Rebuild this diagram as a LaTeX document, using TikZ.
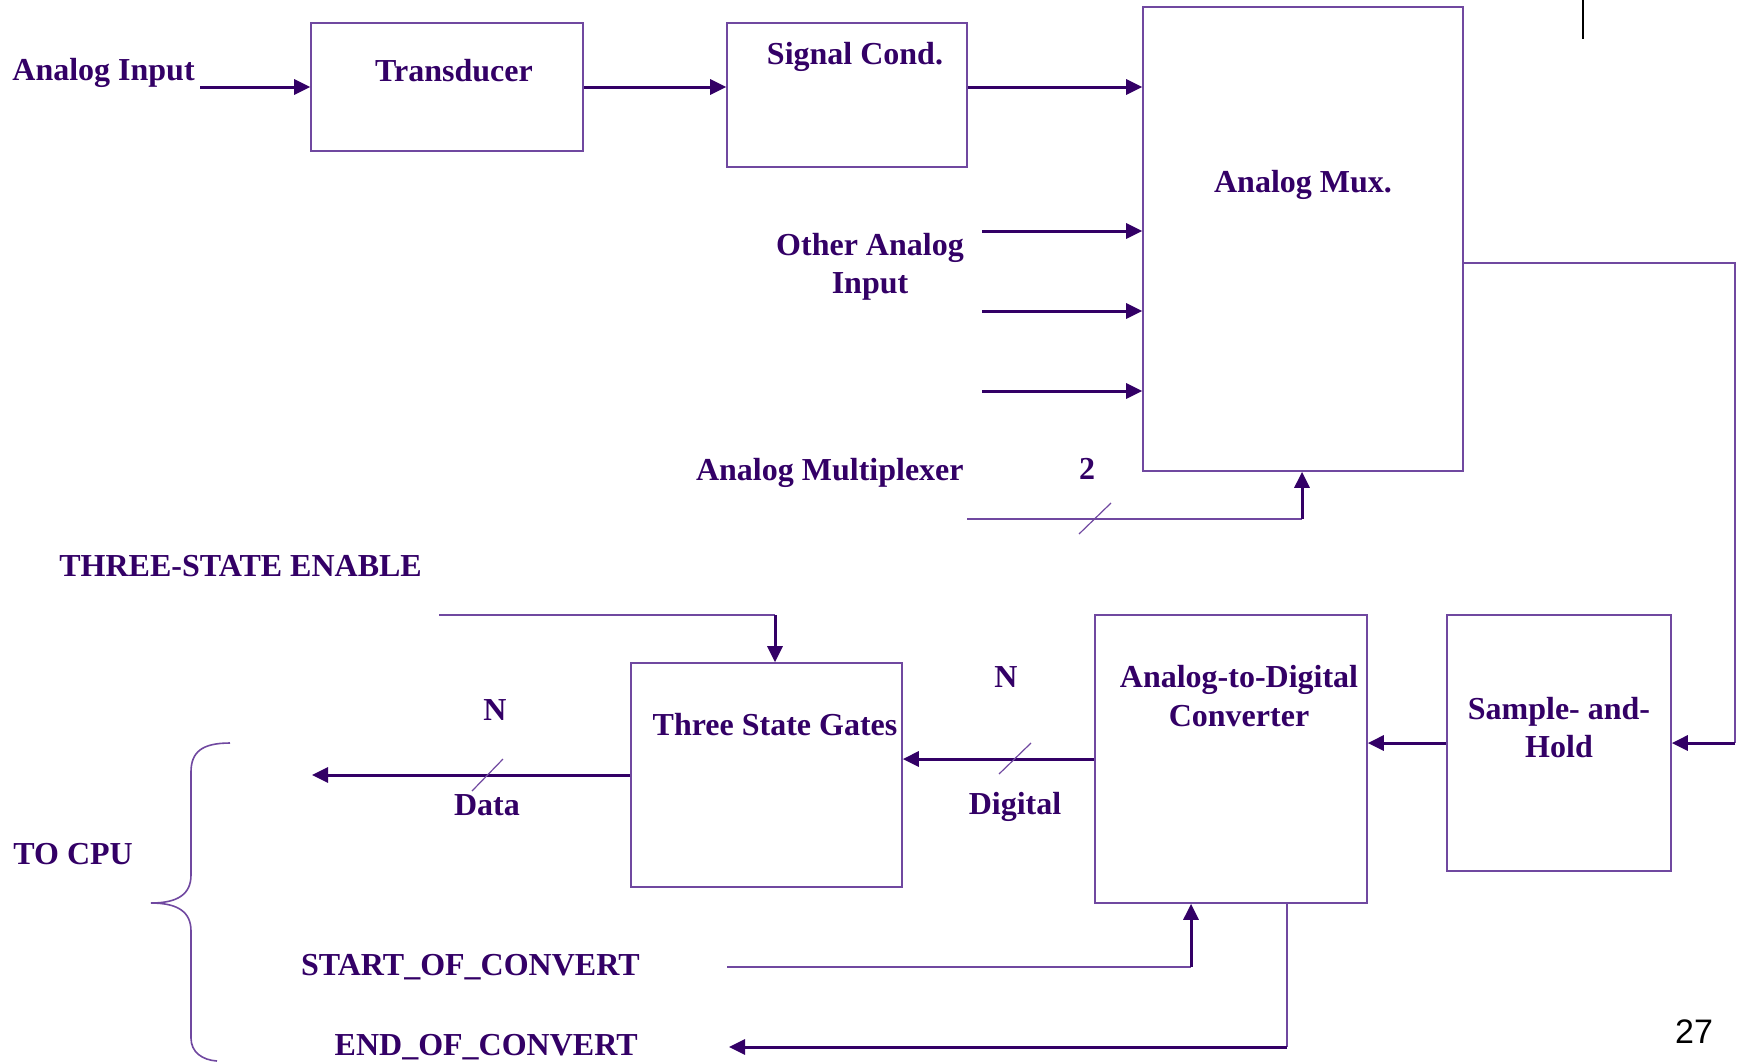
\documentclass[tikz,border=0pt]{standalone}
\usepackage{fontspec}
\setmainfont{Liberation Serif}
\newfontfamily\pgfont{Liberation Sans}
\usetikzlibrary{arrows.meta,fit}
\definecolor{dk}{RGB}{51,0,102}
\definecolor{lt}{RGB}{112,72,160}
\begin{document}
\begin{tikzpicture}[x=0.5pt,y=-0.5pt,
 box/.style={draw=lt, line width=0.8pt, inner sep=0pt},
 lbl/.style={text=dk, font=\fontsize{16}{18}\selectfont\bfseries, inner sep=0pt, anchor=base},
 thk/.style={draw=dk, line width=1.5pt, -{Triangle[length=8pt,width=7.5pt]}},
 thn/.style={draw=lt, line width=0.8pt},
 slash/.style={draw=lt, line width=0.6pt}]
\useasboundingbox (0,0) rectangle (1743,1061);
% boxes
\node[box, fit={(311,23)(583,151)}] (tr) {};
\node[box, fit={(727,23)(967,167)}] (sc) {};
\node[box, fit={(1143,7)(1463,471)}] (mux) {};
\node[box, fit={(1447,615)(1671,871)}] (sh) {};
\node[box, fit={(1095,615)(1367,903)}] (adc) {};
\node[box, fit={(631,663)(902,887)}] (tsg) {};
% labels
\node[lbl, anchor=base west] (tAI) at (12,80) {Analog Input};
\node[lbl] (tTr) at (454,81) {Transducer};
\node[lbl] (tSC) at (855,64) {Signal Cond.};
\node[lbl] (tMux) at (1303,192) {Analog Mux.};
\node[lbl] (tOA1) at (870,255) {Other Analog};
\node[lbl] (tOA2) at (870,293) {Input};
\node[lbl, anchor=base east] (tAM) at (964,480) {Analog Multiplexer};
\node[lbl] (t2) at (1087,479) {2};
\node[lbl, anchor=base west] (tTE) at (59,576) {THREE-STATE ENABLE};
\node[lbl] (tN1) at (495,720) {N};
\node[lbl] (tData) at (487,815) {Data};
\node[lbl] (tTSG) at (775,735) {Three State Gates};
\node[lbl, anchor=base west] (tCPU) at (13,864) {TO CPU};
\node[lbl, anchor=base east] (tSOC) at (640,975) {START\_OF\_CONVERT};
\node[lbl, anchor=base east] (tEOC) at (638,1055) {END\_OF\_CONVERT};
\node[lbl] (tN2) at (1006,687) {N};
\node[lbl] (tDig) at (1015,814) {Digital};
\node[lbl] (tADC1) at (1239,687) {Analog-to-Digital};
\node[lbl] (tADC2) at (1239,726) {Converter};
\node[lbl] (tSH1) at (1559,719) {Sample- and-};
\node[lbl] (tSH2) at (1559,757) {Hold};
\node[anchor=base, inner sep=0pt, font=\pgfont\fontsize{17}{20}\selectfont] (pg) at (1694,1043) {27};
% connectors top row
\coordinate (ain) at (200,87);
\draw[thk] (ain) -- (tr.west |- ain);
\draw[thk] (tr.east |- ain) -- (sc.west |- ain);
\draw[thk] (sc.east |- ain) -- (mux.west |- ain);
\coordinate (oa1) at (982,231);
\coordinate (oa2) at (982,311);
\coordinate (oa3) at (982,391);
\draw[thk] (oa1) -- (mux.west |- oa1);
\draw[thk] (oa2) -- (mux.west |- oa2);
\draw[thk] (oa3) -- (mux.west |- oa3);
% mux select
\coordinate (sel) at (967,519);
\coordinate (selc) at (1302,519);
\draw[thn] (sel) -- (selc);
\draw[thk] (selc) -- (selc |- mux.south);
\draw[slash] (1079,534) -- (1111,503);
% mux output to S&H
\coordinate (mo) at (1735,263);
\draw[thn] (mux.east |- mo) -- (mo) -- (mo |- sh.east);
\draw[thk] (mo |- sh.east) -- (sh.east);
% S&H to ADC
\draw[thk] (sh.west) -- (adc.east |- sh.west);
% ADC to TSG
\draw[thk] (adc.west) -- (tsg.east |- adc.west);
\draw[slash] (999,774) -- (1031,743);
% TSG to data out
\coordinate (dout) at (312,775);
\draw[thk] (tsg.west) -- (dout);
\draw[slash] (472,791) -- (503,759);
% three-state enable
\coordinate (te) at (439,615);
\coordinate (tec) at (775,615);
\draw[thn] (te) -- (tec);
\draw[thk] (tec) -- (tec |- tsg.north);
% start of convert
\coordinate (soc) at (727,967);
\coordinate (socc) at (1191,967);
\draw[thn] (soc) -- (socc);
\draw[thk] (socc) -- (socc |- adc.south);
% end of convert
\coordinate (eocc) at (1287,1047);
\coordinate (eoc) at (729,1047);
\draw[thn] (eocc |- adc.south) -- (eocc);
\draw[thk] (eocc) -- (eoc);
% stray mark
\draw[black, line width=1pt] (1583,0) -- (1583,39);
% brace
\draw[thn] (230,743) .. controls (202,743) and (191,752) .. (191,772) -- (191,875)
  .. controls (191,894) and (178,903) .. (151,903)
  .. controls (178,903) and (191,912) .. (191,931) -- (191,1038)
  .. controls (191,1052) and (202,1060) .. (217,1061);
\end{tikzpicture}
\end{document}
